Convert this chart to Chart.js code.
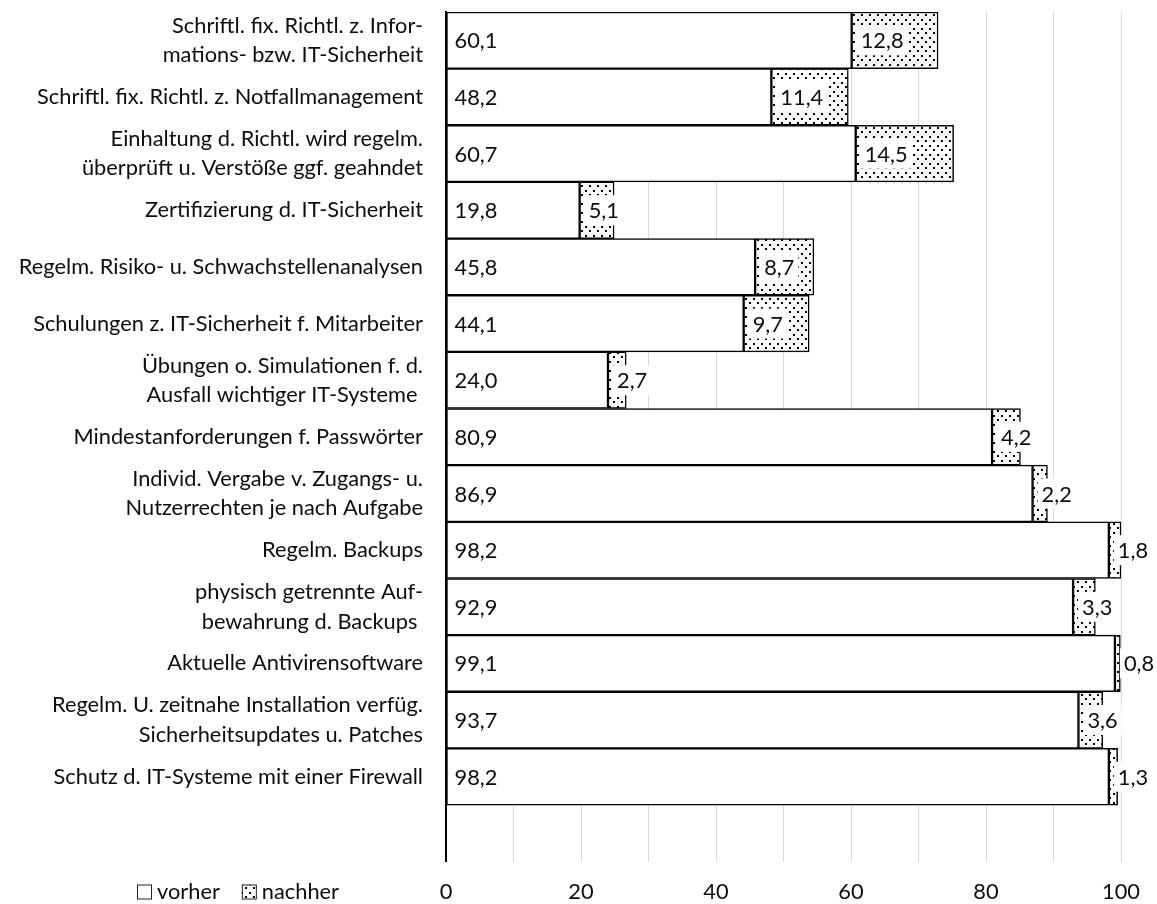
<!DOCTYPE html>
<html>
<head>
<meta charset="utf-8">
<script src="https://cdn.jsdelivr.net/npm/chart.js@4.4.1/dist/chart.umd.min.js"></script>
<style>
  html, body { margin: 0; padding: 0; background: #ffffff; }
  #wrap { width: 1157px; height: 904px; position: relative; }
</style>
</head>
<body>
<div id="wrap"><canvas id="chart" width="1157" height="904"></canvas></div>
<script>
// ---------------- data ----------------
const categories = [
  ["Schriftl. fix. Richtl. z. Infor-", "mations- bzw. IT-Sicherheit"],
  "Schriftl. fix. Richtl. z. Notfallmanagement",
  ["Einhaltung d. Richtl. wird regelm.", "überprüft u. Verstöße ggf. geahndet"],
  "Zertifizierung d. IT-Sicherheit",
  "Regelm. Risiko- u. Schwachstellenanalysen",
  "Schulungen z. IT-Sicherheit f. Mitarbeiter",
  ["Übungen o. Simulationen f. d.", "Ausfall wichtiger IT-Systeme "],
  "Mindestanforderungen f. Passwörter",
  ["Individ. Vergabe v. Zugangs- u.", "Nutzerrechten je nach Aufgabe"],
  "Regelm. Backups",
  ["physisch getrennte Auf-", "bewahrung d. Backups "],
  "Aktuelle Antivirensoftware",
  ["Regelm. U. zeitnahe Installation verfüg.", "Sicherheitsupdates u. Patches"],
  "Schutz d. IT-Systeme mit einer Firewall",
  ""
];
const vorher  = [60.1, 48.2, 60.7, 19.8, 45.8, 44.1, 24.0, 80.9, 86.9, 98.2, 92.9, 99.1, 93.7, 98.2, null];
const nachher = [12.8, 11.4, 14.5,  5.1,  8.7,  9.7,  2.7,  4.2,  2.2,  1.8,  3.3,  0.8,  3.6,  1.3, null];
const seriesNames = ["vorher", "nachher"];
const xTickValues = [0, 20, 40, 60, 80, 100];

// ---------------- styling ----------------
const FAMILY = "Lato, 'Open Sans', sans-serif";
const FS = 21.8;
const TEXT = "#0d0d0d";

function makeDotPattern() {
  const c = document.createElement("canvas");
  c.width = 8; c.height = 9;
  const g = c.getContext("2d");
  g.fillStyle = "#ffffff";
  g.fillRect(0, 0, 8, 9);
  g.fillStyle = "#000000";
  g.fillRect(1, 1, 2, 2);
  g.fillRect(5, 5, 2, 2);
  return g.createPattern(c, "repeat");
}
const ctx0 = document.getElementById("chart").getContext("2d");
const dotPattern = makeDotPattern();

function fmt(v) { return v.toFixed(1).replace(".", ","); }

const barLabels = {
  id: "barLabels",
  afterDatasetsDraw(chart) {
    const ctx = chart.ctx;
    ctx.save();
    ctx.font = FS + "px " + FAMILY;
    ctx.textBaseline = "middle";
    ctx.textAlign = "left";
    chart.data.datasets.forEach((ds, di) => {
      const meta = chart.getDatasetMeta(di);
      meta.data.forEach((bar, i) => {
        const v = ds.data[i];
        if (v === null || v === undefined) return;
        const p = bar.getProps(["x", "y", "base"], true);
        const start = Math.min(p.x, p.base);
        const txt = fmt(v);
        const w = ctx.measureText(txt).width;
        if (di === 1) {
          ctx.fillStyle = "#ffffff";
          ctx.fillRect(start + 5, p.y - 15, w + 8, 30);
          ctx.fillStyle = TEXT;
          ctx.fillText(txt, start + 9, p.y + 1);
        } else {
          ctx.fillStyle = TEXT;
          ctx.fillText(txt, start + 8, p.y + 1);
        }
      });
    });
    ctx.restore();
  }
};

const bottomLegend = {
  id: "bottomLegend",
  afterDraw(chart) {
    const ctx = chart.ctx;
    ctx.save();
    ctx.font = FS + "px " + FAMILY;
    ctx.textBaseline = "middle";
    ctx.textAlign = "left";
    let x = 137;
    const yc = 892;
    const sq = 15;
    chart.data.datasets.forEach((ds, di) => {
      ctx.fillStyle = ds.backgroundColor;
      ctx.fillRect(x, yc - sq / 2, sq, sq);
      ctx.strokeStyle = "#222222";
      ctx.lineWidth = 1;
      ctx.strokeRect(x + 0.5, yc - sq / 2 + 0.5, sq - 1, sq - 1);
      ctx.fillStyle = TEXT;
      ctx.fillText(ds.label, x + sq + 5, yc);
      x += sq + 5 + ctx.measureText(ds.label).width + 22;
    });
    ctx.restore();
  }
};

new Chart(ctx0, {
  type: "bar",
  data: {
    labels: categories,
    datasets: [
      {
        label: seriesNames[0],
        data: vorher,
        backgroundColor: "#ffffff",
        borderColor: "#000000",
        borderWidth: 1.5,
        borderSkipped: false,
        categoryPercentage: 1.0,
        barPercentage: 1.0
      },
      {
        label: seriesNames[1],
        data: nachher,
        backgroundColor: dotPattern,
        borderColor: "#000000",
        borderWidth: 1.5,
        borderSkipped: false,
        categoryPercentage: 1.0,
        barPercentage: 1.0
      }
    ]
  },
  options: {
    indexAxis: "y",
    responsive: false,
    animation: false,
    events: [],
    layout: { padding: { top: 12, right: 36, bottom: 0, left: 0 } },
    plugins: {
      legend: { display: false },
      tooltip: { enabled: false }
    },
    scales: {
      x: {
        stacked: true,
        min: 0,
        max: 100,
        grid: { color: "#d9d9d9", lineWidth: 1, drawTicks: false },
        border: { display: false },
        ticks: {
          stepSize: 10,
          autoSkip: false,
          maxRotation: 0,
          padding: 17,
          color: TEXT,
          font: { family: FAMILY, size: FS },
          callback: (v) => (xTickValues.includes(v) ? String(v) : "")
        },
        afterFit(scale) {
          scale.height = 42.3;
          scale.paddingLeft = 0; scale.paddingRight = 0;
        }
      },
      y: {
        stacked: true,
        grid: { display: false, drawTicks: false },
        border: { display: true, color: "#000000", width: 2 },
        ticks: {
          autoSkip: false,
          padding: 23,
          color: TEXT,
          font: { family: FAMILY, size: FS, lineHeight: 1.35 }
        },
        afterFit(scale) {
          scale.width = 446;
          scale.paddingTop = 0; scale.paddingBottom = 0;
        }
      }
    }
  },
  plugins: [barLabels, bottomLegend]
});
</script>
</body>
</html>
